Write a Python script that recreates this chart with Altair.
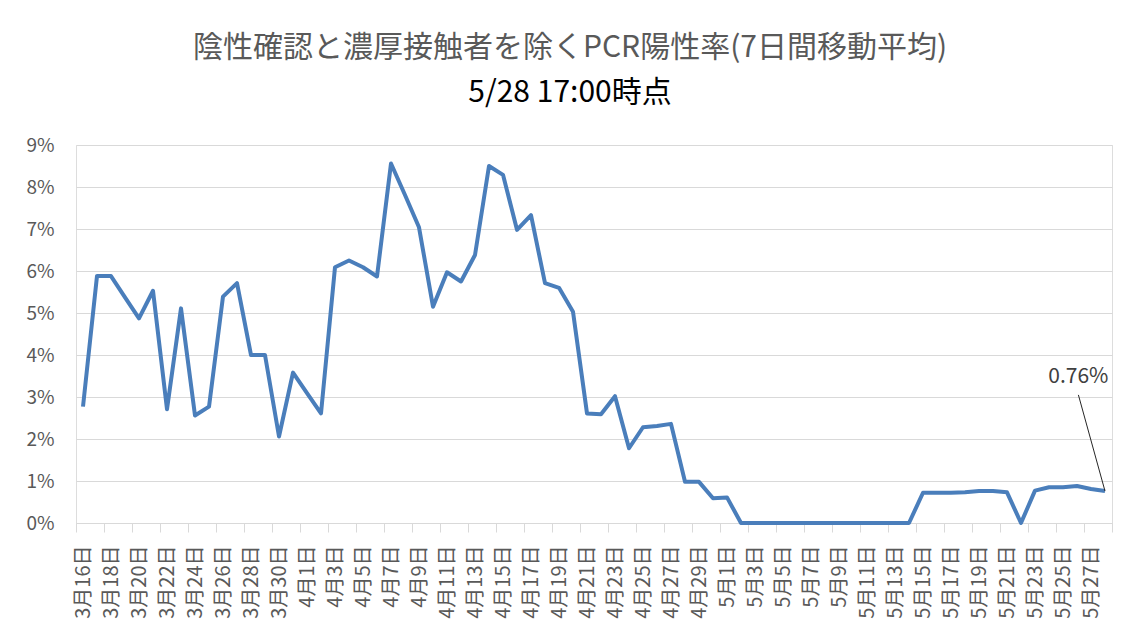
import altair as alt
import pandas as pd

# Categories: one per day, 3/16 .. 5/28
dates = pd.date_range("2020-03-16", "2020-05-28", freq="D")
date_labels = [f"{d.month}月{d.day}日" for d in dates]

# 7-day moving average positive rate (%)
rate_pct = [2.77, 5.88, 5.88, 5.37, 4.87, 5.53, 2.71, 5.11, 2.56, 2.77,
            5.39, 5.71, 4.00, 4.00, 2.06, 3.58, 3.09, 2.61, 6.09, 6.25,
            6.09, 5.87, 8.56, 7.81, 7.04, 5.15, 5.97, 5.75, 6.38, 8.50,
            8.29, 6.98, 7.33, 5.71, 5.60, 5.03, 2.61, 2.59, 3.02, 1.78,
            2.28, 2.31, 2.36, 0.98, 0.98, 0.59, 0.61, 0.00, 0.00, 0.00,
            0.00, 0.00, 0.00, 0.00, 0.00, 0.00, 0.00, 0.00, 0.00, 0.00,
            0.72, 0.72, 0.72, 0.73, 0.76, 0.76, 0.73, 0.00, 0.77, 0.85,
            0.85, 0.88, 0.81, 0.76]

y_ticks = [0, 0.01, 0.02, 0.03, 0.04, 0.05, 0.06, 0.07, 0.08, 0.09]

title_text = "陰性確認と濃厚接触者を除くPCR陽性率(7日間移動平均)"
subtitle_text = "5/28 17:00時点"

# Call-out label for the last point (label position in data units)
annot_text = ["0.76%"]
annot_label_x = [71.1]
annot_label_y = [0.0348]
annot_line_end_y = [0.0305]

FONT = "Noto Sans CJK JP"
GRID = "#d9d9d9"
LINE = "#4a7ebb"
TXT = "#595959"

n = len(rate_pct)
df = pd.DataFrame({
    "i": list(range(n)),
    "label": date_labels,
    "rate": [v / 100 for v in rate_pct],
})

label_array = "[" + ",".join(f"'{s}'" for s in date_labels) + "]"
label_values = list(range(0, n, 2))
tick_values = [k - 0.5 for k in range(0, n + 1, 2)]

xscale = alt.Scale(domain=[-0.5, n - 0.5], nice=False, zero=False)
yscale = alt.Scale(domain=[0, 0.09], nice=False)

yaxis = alt.Axis(values=y_ticks, format=".0%", title=None, domain=False,
                 ticks=False, grid=True, gridColor=GRID, gridWidth=1,
                 labelFont=FONT, labelFontSize=19, labelColor=TXT,
                 labelPadding=22)

line = alt.Chart(df).mark_line(color=LINE, strokeWidth=4, strokeJoin="round").encode(
    x=alt.X("i:Q", scale=xscale,
            axis=alt.Axis(orient="bottom", values=label_values,
                          labelExpr=f"{label_array}[datum.value]",
                          labelAngle=270, ticks=False, domain=True,
                          domainColor=GRID, domainWidth=1, grid=False,
                          labelFont=FONT, labelFontSize=20, labelColor=TXT,
                          labelPadding=22, labelOverlap=False, title=None)),
    y=alt.Y("rate:Q", scale=yscale, axis=yaxis),
)

ticks_layer = alt.Chart(df).mark_line(opacity=0).encode(
    x=alt.X("i:Q", scale=xscale,
            axis=alt.Axis(orient="bottom", values=tick_values, labels=False,
                          ticks=True, tickColor=GRID, tickSize=9, tickWidth=1,
                          domain=False, grid=False, title=None)),
    y=alt.Y("rate:Q", scale=yscale, axis=yaxis),
)

last = pd.DataFrame({
    "i": [n - 1],
    "rate": [rate_pct[-1] / 100],
    "lx": annot_label_x,
    "ly": annot_label_y,
    "ly2": annot_line_end_y,
    "text": annot_text,
})

leader = alt.Chart(last).mark_rule(color="#262626", strokeWidth=1).encode(
    x=alt.X("i:Q", scale=xscale, axis=None),
    y=alt.Y("rate:Q", scale=yscale, axis=yaxis),
    x2="lx:Q",
    y2="ly2:Q",
)

label = alt.Chart(last).mark_text(font=FONT, fontSize=21, color="#404040",
                                  align="center", baseline="middle").encode(
    x=alt.X("lx:Q", scale=xscale, axis=None),
    y=alt.Y("ly:Q", scale=yscale, axis=yaxis),
    text="text:N",
)

chart = alt.layer(line, ticks_layer, leader, label).resolve_axis(
    x="independent"
).properties(
    width=1036,
    height=378,
    title=alt.TitleParams(
        text=title_text, subtitle=subtitle_text, anchor="middle",
        font=FONT, fontSize=30, fontWeight="normal", color=TXT,
        subtitleFont=FONT, subtitleFontSize=30, subtitleColor="#000000",
        subtitleFontWeight="normal", subtitlePadding=15, offset=28, dx=-24,
    ),
    autosize=alt.AutoSizeParams(type="none"),
    padding={"left": 68, "top": 137, "right": 10, "bottom": 103},
).configure_view(stroke=None).configure(background="white")

chart.save("out.html", embed_options={"renderer": "svg", "actions": False})
